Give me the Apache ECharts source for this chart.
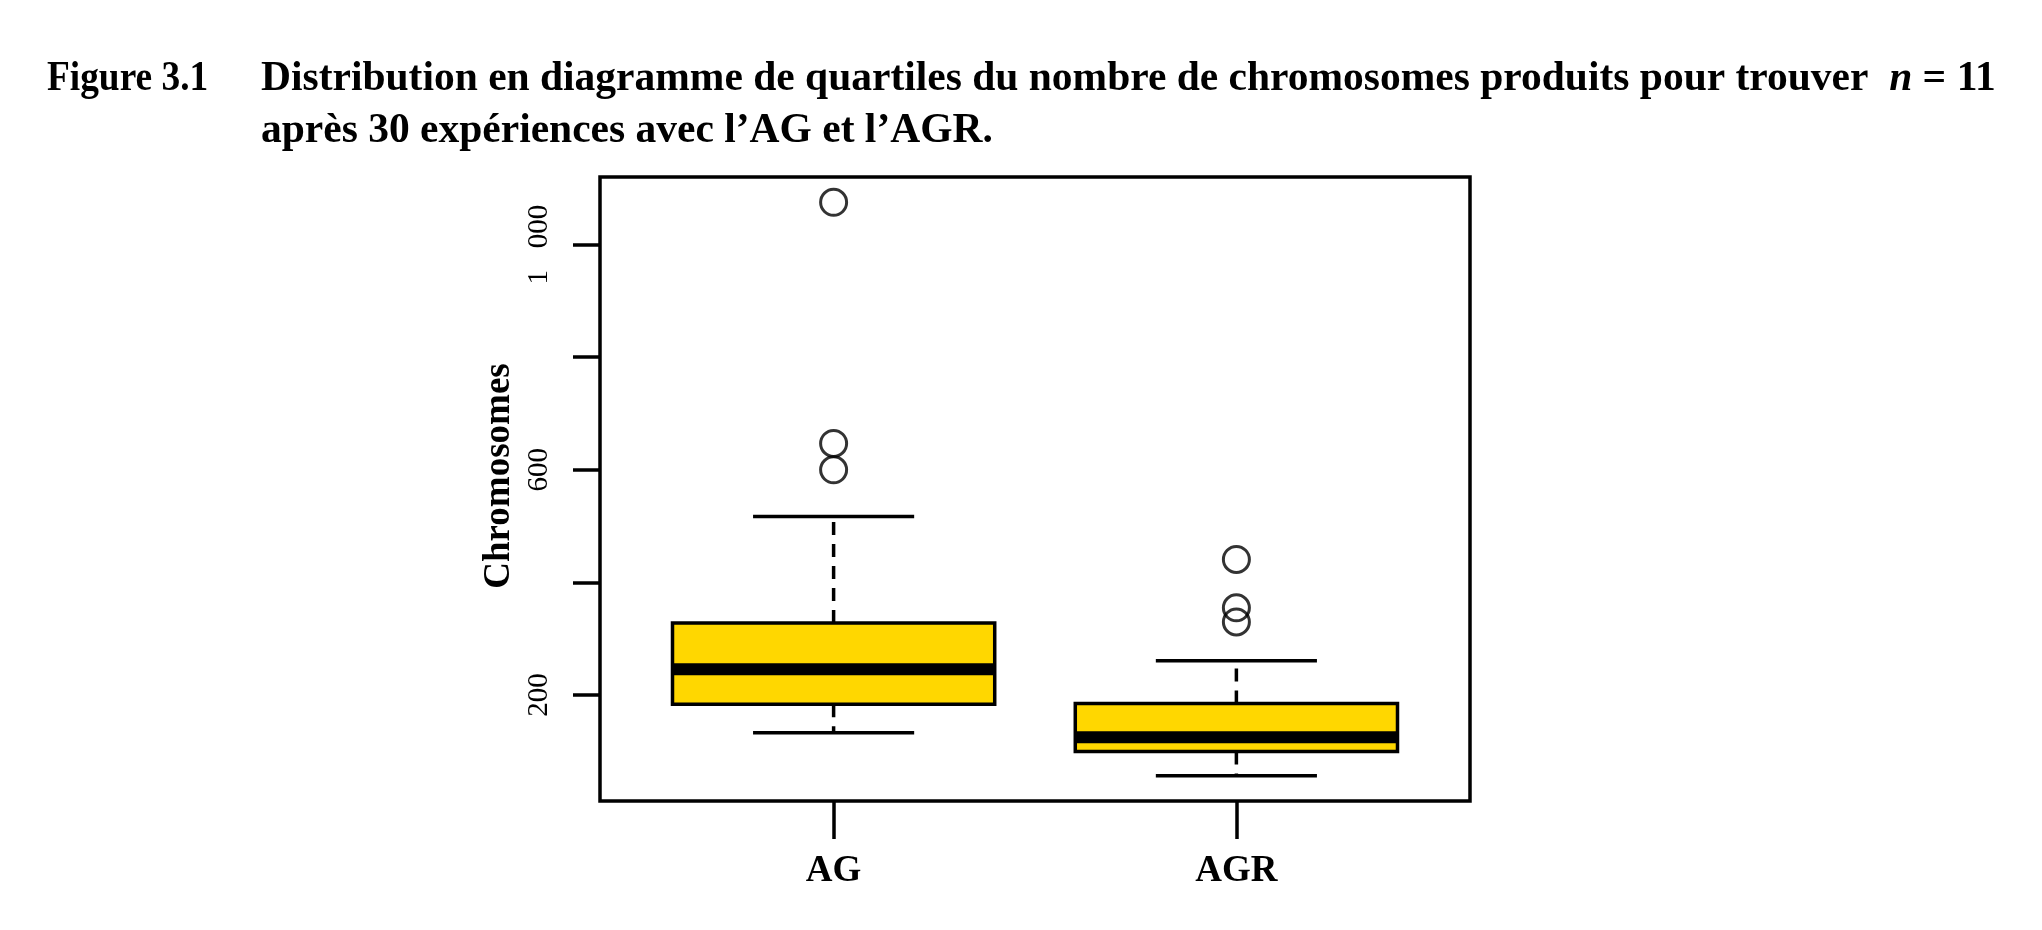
<!DOCTYPE html>
<html>
<head>
<meta charset="utf-8">
<title>Figure 3.1</title>
<script src="https://cdn.jsdelivr.net/npm/echarts@6/dist/echarts.min.js"></script>
<style>
  html, body { margin: 0; padding: 0; background: #fff; }
  #main { width: 2042px; height: 930px; }
</style>
</head>
<body>
<div id="main"></div>
<script type="text/javascript">
    // données
    var categories = ['AG', 'AGR'];
    var lowerWhisker = [133, 57];
    var q1 = [184, 100];
    var median = [246, 125];
    var q3 = [328, 185];
    var upperWhisker = [517, 261];
    var outliersAG = [1075, 647, 600];
    var outliersAGR = [441, 355, 330];
    var yTicks = [200, 400, 600, 800, 1000];
    var yLabels = [200, 600, 1000];

    var serif = 'Liberation Serif';

    var boxData = categories.map(function (c, i) {
        return [i + 1, lowerWhisker[i], q1[i], median[i], q3[i], upperWhisker[i]];
    });
    var outlierData = [];
    outliersAG.forEach(function (v) { outlierData.push([1, v]); });
    outliersAGR.forEach(function (v) { outlierData.push([2, v]); });

    // séparateur de milliers à la française
    function fmtFr(v) {
        return String(v).replace(/\B(?=(\d{3})+(?!\d))/g, '   ');
    }

    function renderBox(params, api) {
        var x = api.value(0);
        var lo = api.value(1), a = api.value(2), m = api.value(3), b = api.value(4), hi = api.value(5);
        var half = 0.4, cap = 0.2;
        var pLo = api.coord([x, lo]), pA = api.coord([x, a]), pB = api.coord([x, b]), pHi = api.coord([x, hi]);
        var left = api.coord([x - half, m])[0], right = api.coord([x + half, m])[0];
        var cl = api.coord([x - cap, m])[0], cr = api.coord([x + cap, m])[0];
        var pM = api.coord([x, m]);
        var solid = { stroke: '#000', lineWidth: 3.5 };
        var dashed = { stroke: '#000', lineWidth: 3.5, lineDash: [13, 9] };
        return {
            type: 'group',
            children: [
                { type: 'line', shape: { x1: pA[0], y1: pA[1], x2: pLo[0], y2: pLo[1] }, style: dashed },
                { type: 'line', shape: { x1: pB[0], y1: pB[1], x2: pHi[0], y2: pHi[1] }, style: dashed },
                { type: 'line', shape: { x1: cl, y1: pLo[1], x2: cr, y2: pLo[1] }, style: solid },
                { type: 'line', shape: { x1: cl, y1: pHi[1], x2: cr, y2: pHi[1] }, style: solid },
                { type: 'rect', shape: { x: left, y: pB[1], width: right - left, height: pA[1] - pB[1] },
                  style: { fill: '#FFD700', stroke: '#000', lineWidth: 3.5 } },
                { type: 'line', shape: { x1: left, y1: pM[1], x2: right, y2: pM[1] }, style: { stroke: '#000', lineWidth: 12 } }
            ]
        };
    }

    var myChart = echarts.init(document.getElementById('main'));
    myChart.setOption({
        backgroundColor: '#fff',
        animation: false,
        graphic: [{
            type: 'text',
            x: 47,
            y: 58,
            scaleX: 0.9,
            style: {
                text: 'Figure 3.1',
                fontFamily: serif, fontWeight: 'bold', fontSize: 41.5, fill: '#000',
                textVerticalAlign: 'top'
            }
        }],
        title: {
            text: '{b|Distribution en diagramme de quartiles du nombre de chromosomes produits pour trouver  }{i|n}{b| = 11}\n{b|après 30 expériences avec l\u2019AG et l\u2019AGR.}',
            left: 256,
            top: 48,
            textStyle: {
                rich: {
                    b: { fontFamily: serif, fontWeight: 'bold', fontSize: 41.5, color: '#000', lineHeight: 52 },
                    i: { fontFamily: serif, fontWeight: 'bold', fontStyle: 'italic', fontSize: 41.5, color: '#000', lineHeight: 52 }
                }
            }
        },
        grid: {
            left: 600, right: 572, top: 177, bottom: 129,
            show: true, borderColor: '#000', borderWidth: 3.5
        },
        xAxis: {
            type: 'value',
            min: 0.42, max: 2.58,
            axisLine: { show: false },
            splitLine: { show: false },
            axisTick: { show: true, customValues: [1, 2], length: 38, lineStyle: { color: '#000', width: 3.5 } },
            axisLabel: {
                customValues: [1, 2],
                formatter: function (v) { return categories[Math.round(v) - 1]; },
                fontFamily: serif, fontWeight: 'bold', fontSize: 37, color: '#000', margin: 52
            }
        },
        yAxis: {
            type: 'value',
            min: 12, max: 1120,
            name: 'Chromosomes',
            nameLocation: 'middle',
            nameRotate: 90,
            nameGap: 82,
            nameTextStyle: { fontFamily: serif, fontWeight: 'bold', fontSize: 37, color: '#000', padding: [0, 0, 0, 26] },
            axisLine: { show: false },
            splitLine: { show: false },
            axisTick: { show: true, customValues: yTicks, length: 27, lineStyle: { color: '#000', width: 3.5 } },
            axisLabel: {
                customValues: yLabels,
                rotate: 90,
                formatter: fmtFr,
                fontFamily: serif, fontSize: 29, color: '#000', margin: 46
            }
        },
        series: [{
            type: 'custom',
            renderItem: renderBox,
            data: boxData,
            encode: { x: 0, y: [1, 2, 3, 4, 5] },
            z: 2
        }, {
            type: 'scatter',
            data: outlierData,
            symbol: 'circle',
            symbolSize: 26,
            itemStyle: { color: 'rgba(0,0,0,0)', borderColor: '#000', borderWidth: 3 },
            z: 3
        }]
    });
</script>
</body>
</html>
